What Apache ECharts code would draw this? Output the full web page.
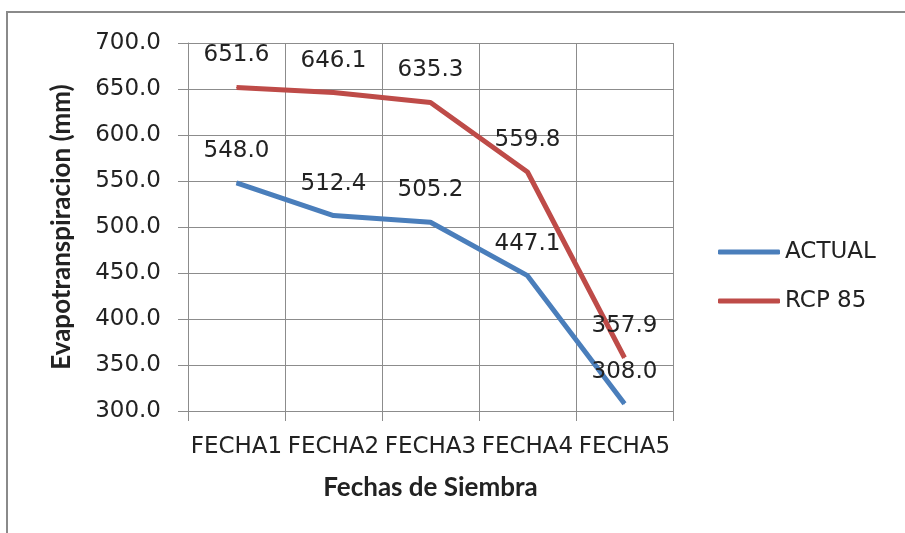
<!DOCTYPE html>
<html>
<head>
<meta charset="utf-8">
<script src="https://cdn.jsdelivr.net/npm/echarts@6/dist/echarts.min.js"></script>
<style>
  html, body { margin: 0; padding: 0; background: #fff; }
  #chart { width: 905px; height: 533px; }
</style>
</head>
<body>
<div id="chart"></div>
<script>
  const categories = ['FECHA1', 'FECHA2', 'FECHA3', 'FECHA4', 'FECHA5'];
  const actual = [548.0, 512.4, 505.2, 447.1, 308.0];
  const rcp85 = [651.6, 646.1, 635.3, 559.8, 357.9];
  const yMin = 300;
  const yMax = 700;
  const yStep = 50;

  const chart = echarts.init(document.getElementById('chart'));
  const numFont = 'DejaVu Sans';
  const gridColor = '#8c8c8c';

  // etiquetas de valor encima de cada punto
  const labelStyle = {
    show: true,
    position: 'top',
    distance: 20,
    fontFamily: numFont,
    fontSize: 23,
    color: '#222',
    formatter: p => p.value.toFixed(1)
  };

  chart.setOption({
    animation: false,
    // marco gris del gráfico (solo se ven arriba e izquierda)
    graphic: [{
      type: 'rect',
      shape: { x: 7, y: 12, width: 1000, height: 1000 },
      style: { fill: 'none', stroke: '#8a8a8a', lineWidth: 2 },
      silent: true
    }],
    grid: { left: 188, right: 232, top: 43, bottom: 122, containLabel: false },
    legend: {
      orient: 'vertical',
      left: 718,
      top: 240,
      padding: 0,
      itemWidth: 62,
      itemHeight: 5,
      itemGap: 25,
      icon: 'roundRect',
      textStyle: { fontFamily: numFont, fontSize: 23, color: '#222', lineHeight: 24 },
      data: ['ACTUAL', 'RCP 85']
    },
    xAxis: {
      type: 'category',
      data: categories,
      boundaryGap: true,
      name: 'Fechas de Siembra',
      nameLocation: 'middle',
      nameGap: 64,
      nameTextStyle: { fontFamily: 'Lato', fontWeight: 'bold', fontSize: 26, color: '#222' },
      axisLine: { lineStyle: { color: gridColor, width: 1 } },
      axisTick: { show: true, length: 10, lineStyle: { color: gridColor } },
      axisLabel: { interval: 0, margin: 25, fontFamily: numFont, fontSize: 23, color: '#222' },
      splitLine: { show: true, lineStyle: { color: gridColor, width: 1 } }
    },
    yAxis: {
      type: 'value',
      min: yMin,
      max: yMax,
      interval: yStep,
      name: 'Evapotranspiracion (mm)',
      nameLocation: 'middle',
      nameGap: 113,
      nameTextStyle: { fontFamily: 'Lato', fontWeight: 'bold', fontSize: 26, color: '#222' },
      axisLine: { show: true, lineStyle: { color: gridColor, width: 1 } },
      axisTick: { show: true, length: 10, lineStyle: { color: gridColor } },
      axisLabel: {
        margin: 27,
        fontFamily: numFont,
        fontSize: 23,
        color: '#222',
        formatter: v => v.toFixed(1)
      },
      splitLine: { show: true, lineStyle: { color: gridColor, width: 1 } }
    },
    series: [
      {
        name: 'ACTUAL',
        type: 'line',
        data: actual,
        showSymbol: true,
        symbol: 'circle',
        symbolSize: 1,
        lineStyle: { color: '#4a7ebb', width: 5 },
        itemStyle: { color: '#4a7ebb' },
        label: labelStyle
      },
      {
        name: 'RCP 85',
        type: 'line',
        data: rcp85,
        showSymbol: true,
        symbol: 'circle',
        symbolSize: 1,
        lineStyle: { color: '#be4b48', width: 5 },
        itemStyle: { color: '#be4b48' },
        label: labelStyle
      }
    ]
  });
</script>
</body>
</html>
